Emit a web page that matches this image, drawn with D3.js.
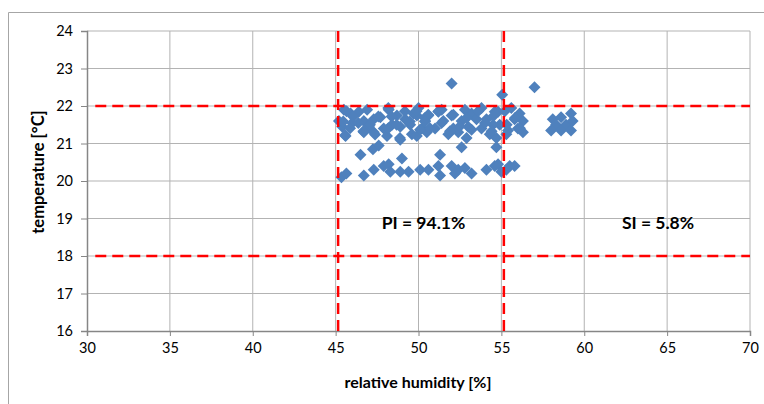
<!DOCTYPE html>
<html><head><meta charset="utf-8">
<script src="https://cdn.jsdelivr.net/npm/d3@7"></script>
<style>body{margin:0;background:#fff}svg{display:block;font-family:Lato,"Open Sans",sans-serif}</style>
</head><body><svg id="c" width="764" height="404"></svg>
<script>
const humidity = [45.5,45.9,46.4,46.9,47.3,47.7,48.2,48.7,49.2,49.7,45.4,46.0,46.7,45.6,46.7,47.3,47.9,48.4,48.9,49.5,48.1,48.9,49.6,49.9,49.9,50.4,51.2,51.0,50.2,52.0,52.1,51.8,52.6,53.2,53.8,53.5,54.1,53.8,54.3,54.6,52.8,51.4,50.6,55.6,56.1,55.8,56.3,56.0,56.3,54.8,54.9,55.3,55.4,54.7,58.1,58.6,59.2,58.3,58.9,58.0,58.6,59.2,59.3,52.0,57.0,55.05,50.5,51.5,53.0,54.5,50.0,52.4,47.0,45.2,
45.66,46.06,45.46,46.37,45.87,45.57,46.67,47.07,47.58,48.18,48.38,48.68,48.18,48.88,49.18,49.48,49.88,50.09,50.39,47.38,
50.59,50.69,51.2,51.39,51.9,52.1,52.5,52.9,53.2,53.6,54.01,54.41,54.51,55.21,55.32,55.82,56.12,52.9,50.39,
45.35,45.65,46.5,46.7,47.25,47.6,47.3,47.9,48.2,48.3,49.0,49.4,48.9,50.1,50.6,51.3,51.2,51.3,52.0,52.4,52.6,52.8,53.2,52.2,54.1,54.6,54.7,55.8,54.8,55.5,55.0,55.3];
const temperature = [21.9,21.8,21.85,21.9,21.65,21.7,21.9,21.75,21.65,21.8,21.45,21.55,21.6,21.2,21.3,21.3,21.4,21.5,21.45,21.5,21.2,21.1,21.25,21.2,21.75,21.6,21.85,21.4,21.4,21.75,21.4,21.25,21.6,21.8,21.95,21.65,21.65,21.4,21.25,21.85,21.9,21.9,21.75,21.95,21.8,21.65,21.6,21.4,21.3,21.85,21.5,21.25,21.35,21.15,21.65,21.7,21.8,21.5,21.5,21.35,21.35,21.35,21.6,22.6,22.5,22.3,21.3,21.6,21.45,21.5,21.95,21.3,21.45,21.6,
21.86,21.72,21.59,21.55,21.41,21.22,21.33,21.5,21.72,21.95,21.72,21.5,21.41,21.15,21.86,21.59,21.86,21.37,21.68,21.24,
21.77,21.41,21.86,21.55,21.33,21.77,21.46,21.68,21.37,21.86,21.55,21.33,21.73,21.86,21.5,21.68,21.41,21.15,21.59,
20.1,20.2,20.7,20.15,20.85,20.95,20.3,20.4,20.45,20.25,20.6,20.25,20.25,20.3,20.3,20.7,20.4,20.15,20.4,20.3,20.9,20.35,20.2,20.2,20.3,20.4,20.9,20.4,20.45,20.4,20.25,20.3];
const xTicks = [30,35,40,45,50,55,60,65,70];
const yTicks = [16,17,18,19,20,21,22,23,24];
const limitsRH = [45.15,55.15];
const limitsT = [18,22];
const annotations = [{x:50.3,y:19,t:"PI = 94.1%"},{x:64.45,y:19,t:"SI = 5.8%"}];

const svg = d3.select("#c");
const L=87,T=31,W=663,H=300;
const x = d3.scaleLinear().domain([30,70]).range([L,L+W]);
const y = d3.scaleLinear().domain([16,24]).range([T+H,T]);

svg.append("path").attr("d",`M8.5,404V12.5H764`).attr("fill","none").attr("stroke","#a6a6a6");

const g = svg.append("g");
g.selectAll(".gx").data(xTicks.slice(1)).join("line").attr("x1",d=>x(d)).attr("x2",d=>x(d)).attr("y1",T).attr("y2",T+H).attr("stroke","#b3b3b3");
g.selectAll(".gy").data(yTicks.slice(1)).join("line").attr("x1",L).attr("x2",L+W).attr("y1",d=>y(d)).attr("y2",d=>y(d)).attr("stroke","#b3b3b3");

const xa = svg.append("g").attr("transform",`translate(0,${T+H})`).call(d3.axisBottom(x).tickValues(xTicks).tickSize(5).tickPadding(7));
const ya = svg.append("g").attr("transform",`translate(${L},0)`).call(d3.axisLeft(y).tickValues(yTicks).tickSize(6).tickPadding(8));
[xa,ya].forEach(a=>{a.select(".domain").attr("stroke","#868686").attr("stroke-width",1.5);a.selectAll(".tick line").attr("stroke","#868686");a.selectAll("text").attr("font-size",14.5).attr("fill","#000").attr("font-family","Lato,sans-serif");});

// points
const pts = humidity.map((h,i)=>({h,t:temperature[i]}));
const r=6;
svg.append("g").selectAll("path").data(pts).join("path")
 .attr("d",`M0,${-r}L${r},0L0,${r}L${-r},0Z`)
 .attr("transform",d=>`translate(${x(d.h)},${y(d.t)})`)
 .attr("fill","#4f81bd");

// red dashed limits
const rd = svg.append("g").attr("stroke","#ff0000").attr("stroke-width",2.5).attr("stroke-dasharray","11,6").attr("fill","none");
rd.selectAll(".h").data(limitsT).join("line").attr("x1",x(30.5)).attr("x2",x(70)).attr("y1",d=>y(d)).attr("y2",d=>y(d));
rd.selectAll(".v").data(limitsRH).join("line").attr("x1",d=>x(d)).attr("x2",d=>x(d)).attr("y1",y(24)).attr("y2",y(16)+2);

svg.append("g").selectAll("text").data(annotations).join("text")
 .attr("x",d=>x(d.x)).attr("y",d=>y(d.y)+10).attr("text-anchor","middle")
 .attr("font-weight","bold").attr("font-size",17.5).text(d=>d.t);

svg.append("text").attr("x",418).attr("y",388).attr("text-anchor","middle").attr("font-weight","bold").attr("font-size",16).text("relative humidity [%]");
svg.append("text").attr("transform","translate(44,172) rotate(-90)").attr("text-anchor","middle").attr("font-weight","bold").attr("font-size",16.5).text("temperature [°C]");
</script></body></html>
